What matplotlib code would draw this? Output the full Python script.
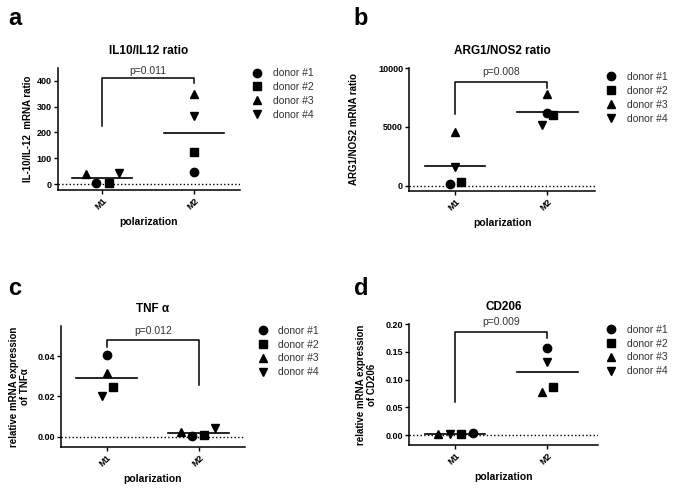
import numpy as np
import matplotlib
matplotlib.use("Agg")
import matplotlib.pyplot as plt
from matplotlib.lines import Line2D

plt.rcParams['font.family'] = ['Liberation Sans', 'DejaVu Sans']

groups = ["M1", "M2"]
donors = ["donor #1", "donor #2", "donor #3", "donor #4"]
markers = ['o', 's', '^', 'v']

# values per donor (#1..#4) for M1 and M2
il_m1 = [3, 5, 38, 42]
il_m2 = [48, 125, 350, 262]
arg_m1 = [170, 340, 4600, 1620]
arg_m2 = [6190, 5990, 7780, 5170]
tnf_m1 = [0.0407, 0.0245, 0.0317, 0.0203]
tnf_m2 = [0.0003, 0.0008, 0.0025, 0.0041]
cd_m1 = [0.004, 0.002, 0.001, 0.0024]
cd_m2 = [0.157, 0.086, 0.077, 0.1315]

p_values = ["p=0.011", "p=0.008", "p=0.012", "p=0.009"]
titles = ["IL10/IL12 ratio", "ARG1/NOS2 ratio", "TNF \u03b1", "CD206"]
ylabels = ["IL-10/IL-12  mRNA ratio", "ARG1/NOS2 mRNA ratio",
           "relative mRNA expression\nof TNF\u03b1", "relative mRNA expression\nof CD206"]
letters = ["a", "b", "c", "d"]

panels = [
    dict(m1=il_m1, m2=il_m2,
         dx1=[-0.07, 0.07, -0.17, 0.18], dx2=[0, 0, 0, 0],
         ylim=(-23, 450), yticks=[0, 100, 200, 300, 400], fmt="{:.0f}",
         br=(225, 413, 392), pt=440,
         pos=[0.0859, 0.6154, 0.2696, 0.247], xlim=(-0.48, 1.5), ylx=-0.14,
         leg=(0.372, 0.862), let=(0.012, 0.985)),
    dict(m1=arg_m1, m2=arg_m2,
         dx1=[-0.054, 0.07, 0, 0], dx2=[0, 0.06, 0, -0.06],
         ylim=(-426, 10000), yticks=[0, 5000, 10000], fmt="{:.0f}",
         br=(6080, 8860, 8300), pt=9700,
         pos=[0.6064, 0.614, 0.2751, 0.2478], xlim=(-0.495, 1.517), ylx=-0.27,
         leg=(0.896, 0.854), let=(0.524, 0.985)),
    dict(m1=tnf_m1, m2=tnf_m2,
         dx1=[0, 0.065, 0, -0.054], dx2=[-0.07, 0.055, -0.19, 0.17],
         ylim=(-0.0053, 0.055), yticks=[0, 0.02, 0.04], fmt="{:.2f}",
         br=(0.0446, 0.048, 0.0256), pt=0.0525,
         pos=[0.0904, 0.0945, 0.2726, 0.2455], xlim=(-0.495, 1.5), ylx=-0.168,
         leg=(0.38, 0.341), let=(0.012, 0.44)),
    dict(m1=cd_m1, m2=cd_m2,
         dx1=[0.19, 0.065, -0.18, -0.054], dx2=[0, 0.06, -0.06, 0],
         ylim=(-0.018, 0.2), yticks=[0, 0.05, 0.10, 0.15, 0.20], fmt="{:.2f}",
         br=(0.06, 0.186, 0.174), pt=0.204,
         pos=[0.6064, 0.0992, 0.2796, 0.2449], xlim=(-0.495, 1.55), ylx=-0.17,
         leg=(0.896, 0.343), let=(0.524, 0.44)),
]

fig = plt.figure(figsize=(6.75, 4.94), dpi=100)

for i, p in enumerate(panels):
    ax = fig.add_axes(p["pos"])
    for j in range(4):
        ax.plot(0 + p["dx1"][j], p["m1"][j], marker=markers[j], color='black',
                ms=6, ls='none', clip_on=False)
        ax.plot(1 + p["dx2"][j], p["m2"][j], marker=markers[j], color='black',
                ms=6, ls='none', clip_on=False)
    for g, vals in enumerate([p["m1"], p["m2"]]):
        ax.plot([g - 0.33, g + 0.33], [np.mean(vals)] * 2, color='black', lw=1.2)
    ax.axhline(0, color='black', ls=':', lw=1)

    b0, btop, b1 = p["br"]
    ax.plot([0, 0, 1, 1], [b0, btop, btop, b1], color='black', lw=1.1, clip_on=False)
    ax.text(0.5, p["pt"], p_values[i], ha='center', va='center', fontsize=7.5, color='#333333')

    ax.set_xlim(p["xlim"])
    ax.set_ylim(p["ylim"])
    ax.set_xticks([0, 1])
    ax.set_xticklabels(groups, rotation=45, ha='right', rotation_mode='anchor',
                       fontsize=6.5, fontweight='bold')
    ax.set_yticks(p["yticks"])
    ax.set_yticklabels([p["fmt"].format(t) for t in p["yticks"]], fontsize=6.5, fontweight='bold')
    ax.tick_params(length=3, width=1, pad=1.5)
    for s in ['top', 'right']:
        ax.spines[s].set_visible(False)
    for s in ['left', 'bottom']:
        ax.spines[s].set_linewidth(1.1)
    ax.set_xlabel("polarization", fontsize=7.5, fontweight='bold', labelpad=4)
    ax.set_ylabel(ylabels[i], fontsize=7, fontweight='bold')
    ax.yaxis.set_label_coords(p["ylx"], 0.5)
    ax.set_title(titles[i], fontsize=8.5, fontweight='bold', pad=10)

    handles = [Line2D([], [], marker=m, color='black', ls='none', ms=6) for m in markers]
    leg = ax.legend(handles, donors, loc='upper left', bbox_to_anchor=p["leg"],
                    bbox_transform=fig.transFigure, frameon=False, fontsize=7.5,
                    handletextpad=0.9, labelspacing=0.38, handlelength=1.2,
                    borderpad=0, borderaxespad=0)
    for t in leg.get_texts():
        t.set_color('#333333')

    fig.text(p["let"][0], p["let"][1], letters[i], fontsize=17, fontweight='bold',
             va='top', ha='left')

fig.savefig("out.png", dpi=100)
